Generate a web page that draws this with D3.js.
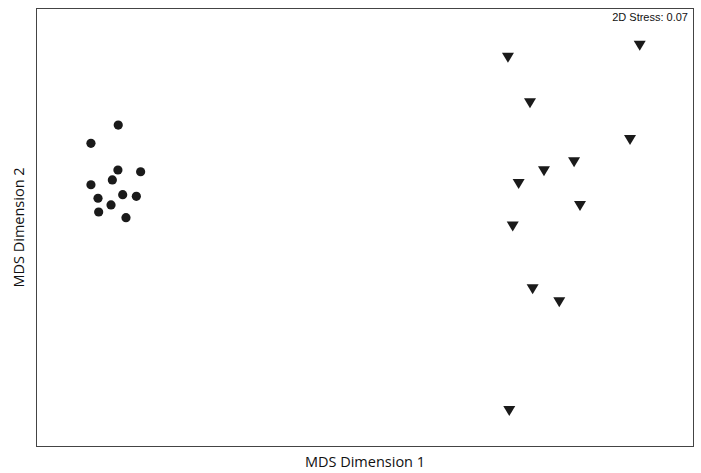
<!DOCTYPE html>
<html>
<head>
<meta charset="utf-8">
<script src="https://cdn.jsdelivr.net/npm/d3@7"></script>
<style>
html,body{margin:0;padding:0;background:#fff;}
</style>
</head>
<body>
<svg id="chart" width="701" height="473"></svg>
<script>
// Group A (circles) MDS coordinates
const groupA_x = [-1.500, -1.666, -1.502, -1.364, -1.536, -1.666, -1.623, -1.473, -1.390, -1.544, -1.619, -1.453];
const groupA_y = [0.700, 0.575, 0.393, 0.381, 0.325, 0.292, 0.200, 0.224, 0.213, 0.154, 0.106, 0.067];
// Group B (triangles) MDS coordinates
const groupB_x = [1.670, 0.869, 1.003, 1.611, 1.271, 1.088, 0.934, 1.307, 0.898, 1.019, 1.181, 0.877];
const groupB_y = [1.242, 1.160, 0.849, 0.598, 0.446, 0.384, 0.297, 0.147, 0.006, -0.422, -0.511, -1.254];
const stressLabel = "2D Stress: 0.07";
const xLabel = "MDS Dimension 1";
const yLabel = "MDS Dimension 2";

(function () {
const svg = d3.select("#chart");
const mLeft = 36, mRight = 694, mTop = 8, mBottom = 447;
const x = d3.scaleLinear().domain([-2, 2]).range([mLeft, mRight]);
const y = d3.scaleLinear().domain([-1.5, 1.5]).range([mBottom, mTop]);

svg.append("rect")
  .attr("x", mLeft + 0.5).attr("y", mTop + 0.5)
  .attr("width", mRight - mLeft - 1).attr("height", mBottom - mTop - 1)
  .attr("fill", "none").attr("stroke", "#444").attr("stroke-width", 1);

const A = groupA_x.map((v, i) => ({x: v, y: groupA_y[i]}));
const B = groupB_x.map((v, i) => ({x: v, y: groupB_y[i]}));

svg.append("g").selectAll("circle").data(A).join("circle")
  .attr("cx", d => x(d.x)).attr("cy", d => y(d.y))
  .attr("r", 4.6).attr("fill", "#1a1a1a");

// downward triangle, bbox-centered
const tw = 12, th = 10;
const triPath = `M${-tw/2},${-th/2}L${tw/2},${-th/2}L0,${th/2}Z`;
svg.append("g").selectAll("path").data(B).join("path")
  .attr("d", triPath)
  .attr("transform", d => `translate(${x(d.x)},${y(d.y)})`)
  .attr("fill", "#1a1a1a");

svg.append("text")
  .attr("x", 688).attr("y", 21)
  .attr("text-anchor", "end")
  .attr("font-family", "Liberation Sans, Arial, sans-serif")
  .attr("font-size", 11)
  .attr("fill", "#111")
  .text(stressLabel);

svg.append("text")
  .attr("x", (mLeft + mRight) / 2).attr("y", 467)
  .attr("text-anchor", "middle")
  .attr("font-family", "Open Sans, sans-serif")
  .attr("font-size", 14.5)
  .attr("fill", "#111")
  .text(xLabel);

svg.append("text")
  .attr("transform", `translate(24,${(mTop + mBottom) / 2}) rotate(-90)`)
  .attr("text-anchor", "middle")
  .attr("font-family", "Open Sans, sans-serif")
  .attr("font-size", 14.5)
  .attr("fill", "#111")
  .text(yLabel);
})();
</script>
</body>
</html>
